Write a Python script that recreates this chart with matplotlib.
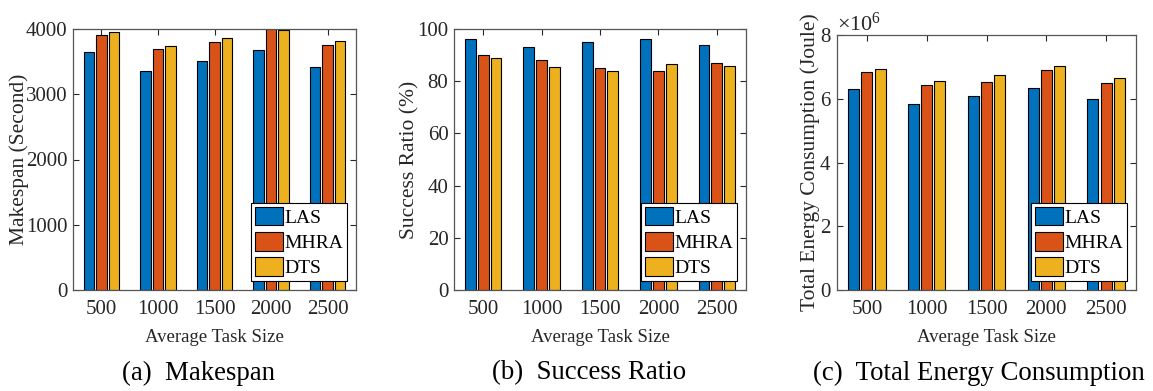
import matplotlib
matplotlib.use("Agg")
import matplotlib.pyplot as plt
import numpy as np
from matplotlib.ticker import ScalarFormatter

plt.rcParams['font.family'] = ['Liberation Serif', 'DejaVu Serif']
plt.rcParams['mathtext.fontset'] = 'custom'
plt.rcParams['mathtext.rm'] = 'Liberation Serif'
plt.rcParams['mathtext.it'] = 'Liberation Serif:italic'

# data
task_sizes = ['500', '1000', '1500', '2000', '2500']
methods = ['LAS', 'MHRA', 'DTS']

makespan_las = [3650, 3350, 3510, 3680, 3410]
makespan_mhra = [3905, 3700, 3800, 3995, 3750]
makespan_dts = [3950, 3740, 3860, 3990, 3810]

success_las = [96, 93, 95, 96, 94]
success_mhra = [90, 88, 85, 84, 87]
success_dts = [89, 85.4, 84, 86.5, 86]

energy_las = [6.32e6, 5.84e6, 6.09e6, 6.34e6, 5.98e6]
energy_mhra = [6.84e6, 6.44e6, 6.52e6, 6.89e6, 6.48e6]
energy_dts = [6.93e6, 6.56e6, 6.73e6, 7.04e6, 6.64e6]

colors = ['#0072BD', '#D95319', '#EDB120']
txt = '#262626'

W, H = 1153, 391
fig = plt.figure(figsize=(W / 100, H / 100), dpi=100)


def px_axes(l, t, r, b):
    return fig.add_axes([l / W, 1 - b / H, (r - l) / W, (b - t) / H])


def draw(ax, series, ylim, yticks, ylabel, ylab_x, box):
    l, t, r, b = box
    x = np.arange(1, len(task_sizes) + 1)
    for i, (vals, name) in enumerate(zip(series, methods)):
        ax.bar(x + (i - 1) * 0.22, vals, width=0.185, color=colors[i],
               edgecolor='black', linewidth=0.8, label=name, zorder=2)
    ax.set_xlim(0.5, 5.5)
    ax.set_ylim(*ylim)
    ax.set_yticks(yticks)
    ax.set_xticks(x)
    ax.set_xticklabels(task_sizes)
    ax.tick_params(direction='in', top=True, right=True, labelsize=15,
                   colors=txt, length=4, width=0.8)
    ax.tick_params(axis='x', pad=7)
    ax.tick_params(axis='y', pad=4)
    for s in ax.spines.values():
        s.set_color('#555555')
        s.set_linewidth(0.9)
    ax.set_xlabel('Average Task Size', fontsize=13.5, color=txt)
    ax.set_ylabel(ylabel, fontsize=15.5, color=txt)
    ax.xaxis.set_label_coords(0.5, -(338 - b) / (b - t))
    ax.xaxis.label.set_va('center')
    ax.yaxis.set_label_coords((ylab_x - l) / (r - l), 0.5)
    ax.yaxis.label.set_va('center')
    leg = ax.legend(loc='lower right', fontsize=14, frameon=True, fancybox=False,
                    edgecolor='black', framealpha=1, borderpad=0.2,
                    labelspacing=0.28, handlelength=1.45, handleheight=1.1,
                    handletextpad=0.08, borderaxespad=0.45)
    leg.get_frame().set_linewidth(0.8)
    leg.set_zorder(5)


box1 = (73, 29, 356, 290)
ax1 = px_axes(*box1)
draw(ax1, [makespan_las, makespan_mhra, makespan_dts], (0, 4000),
     [0, 1000, 2000, 3000, 4000], 'Makespan (Second)', 19, box1)

box2 = (454, 29, 746, 290)
ax2 = px_axes(*box2)
draw(ax2, [success_las, success_mhra, success_dts], (0, 100),
     [0, 20, 40, 60, 80, 100], 'Success Ratio (%)', 410, box2)

box3 = (837, 35, 1136, 290)
ax3 = px_axes(*box3)
draw(ax3, [energy_las, energy_mhra, energy_dts], (0, 8e6),
     [0, 2e6, 4e6, 6e6, 8e6], 'Total Energy Consumption (Joule)', 810, box3)
fmt = ScalarFormatter(useMathText=True)
fmt.set_powerlimits((0, 0))
ax3.yaxis.set_major_formatter(fmt)
ax3.yaxis.get_offset_text().set_fontsize(16)
ax3.yaxis.get_offset_text().set_color(txt)

for xc, cap in [(199, '(a)  Makespan'), (589, '(b)  Success Ratio'),
                (979, '(c)  Total Energy Consumption')]:
    fig.text(xc / W, 1 - 373 / H, cap, ha='center', va='center', fontsize=19.3,
             color='black')

fig.savefig('out.png', dpi=100)
